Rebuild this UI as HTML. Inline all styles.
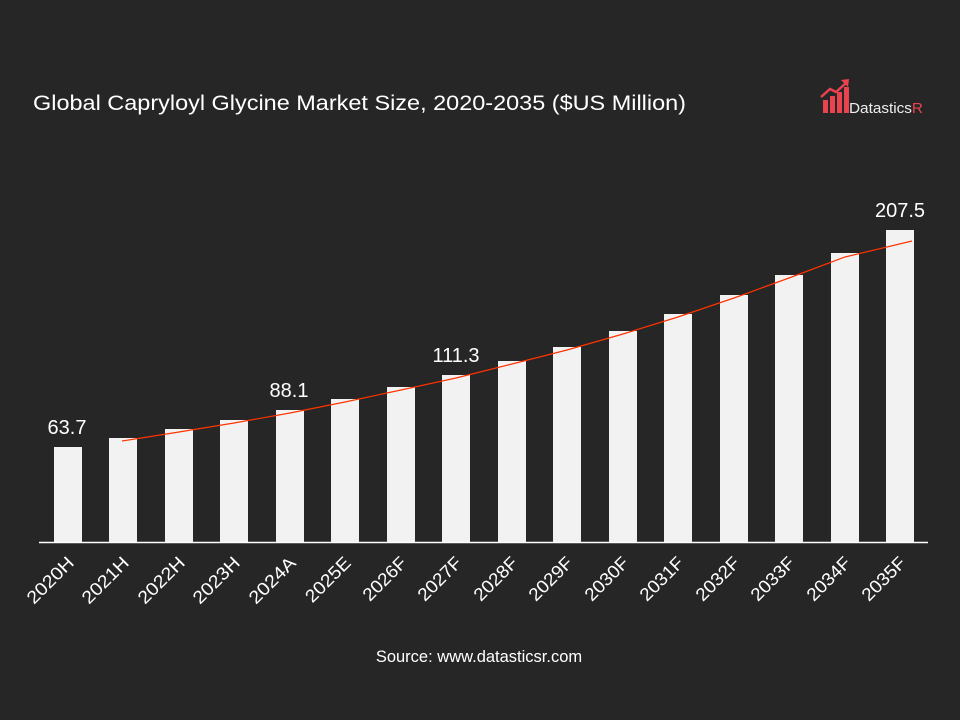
<!DOCTYPE html>
<html><head><meta charset="utf-8"><style>
html,body{margin:0;padding:0;background:#262626;}
svg{display:block;font-family:"Liberation Sans",sans-serif;}
</style></head><body>
<svg width="960" height="720" viewBox="0 0 960 720" xmlns="http://www.w3.org/2000/svg">
<rect width="960" height="720" fill="#262626"/>
<text x="33" y="110" fill="#ffffff" font-size="21" textLength="653" lengthAdjust="spacingAndGlyphs">Global Capryloyl Glycine Market Size, 2020-2035 ($US Million)</text>
<g>
<rect x="823" y="100" width="5" height="13" fill="#e8434f"/>
<rect x="830" y="96" width="5" height="17" fill="#e8434f"/>
<rect x="837" y="92" width="5" height="21" fill="#e8434f"/>
<rect x="844" y="87" width="5" height="26" fill="#e8434f"/>
<polyline points="821,97 830,89 836,92 846,83" fill="none" stroke="#e8434f" stroke-width="2.5"/>
<polygon points="841,80 849,79 848,87" fill="#e8434f"/>
<text x="849" y="113" font-size="15" fill="#eeeeee" textLength="74" lengthAdjust="spacingAndGlyphs">Datastics<tspan fill="#e8434f">R</tspan></text>
</g>
<g fill="#f2f2f2">
<rect x="54" y="447" width="28" height="95"/>
<rect x="109" y="438" width="28" height="104"/>
<rect x="165" y="429" width="28" height="113"/>
<rect x="220" y="420" width="28" height="122"/>
<rect x="276" y="410" width="28" height="132"/>
<rect x="331" y="399" width="28" height="143"/>
<rect x="387" y="387" width="28" height="155"/>
<rect x="442" y="375" width="28" height="167"/>
<rect x="498" y="361" width="28" height="181"/>
<rect x="553" y="347" width="28" height="195"/>
<rect x="609" y="331" width="28" height="211"/>
<rect x="664" y="314" width="28" height="228"/>
<rect x="720" y="295" width="28" height="247"/>
<rect x="775" y="275" width="28" height="267"/>
<rect x="831" y="253" width="28" height="289"/>
<rect x="886" y="230" width="28" height="312"/>
</g>
<line x1="39" y1="542.5" x2="928" y2="542.5" stroke="#ffffff" stroke-width="1.5"/>
<polyline fill="none" stroke="#ff3300" stroke-width="1.2" points="122,441 179,432 234,423 290,413 345,402 401,390 456,378 512,364 567,350 623,334 678,317 734,298 789,278 845,257 912,241"/>
<g fill="#ffffff" font-size="20" text-anchor="middle">
<text x="67" y="434">63.7</text>
<text x="289" y="397">88.1</text>
<text x="456" y="362">111.3</text>
<text x="900" y="217">207.5</text>
</g>
<g fill="#ffffff" font-size="18" text-anchor="end">
<text transform="translate(75,564) rotate(-45)" textLength="58" lengthAdjust="spacingAndGlyphs">2020H</text>
<text transform="translate(130,564) rotate(-45)" textLength="58" lengthAdjust="spacingAndGlyphs">2021H</text>
<text transform="translate(186,564) rotate(-45)" textLength="58" lengthAdjust="spacingAndGlyphs">2022H</text>
<text transform="translate(241,564) rotate(-45)" textLength="58" lengthAdjust="spacingAndGlyphs">2023H</text>
<text transform="translate(297,564) rotate(-45)" textLength="58" lengthAdjust="spacingAndGlyphs">2024A</text>
<text transform="translate(352,564) rotate(-45)" textLength="56" lengthAdjust="spacingAndGlyphs">2025E</text>
<text transform="translate(408,564) rotate(-45)" textLength="54" lengthAdjust="spacingAndGlyphs">2026F</text>
<text transform="translate(463,564) rotate(-45)" textLength="54" lengthAdjust="spacingAndGlyphs">2027F</text>
<text transform="translate(519,564) rotate(-45)" textLength="54" lengthAdjust="spacingAndGlyphs">2028F</text>
<text transform="translate(574,564) rotate(-45)" textLength="54" lengthAdjust="spacingAndGlyphs">2029F</text>
<text transform="translate(630,564) rotate(-45)" textLength="54" lengthAdjust="spacingAndGlyphs">2030F</text>
<text transform="translate(685,564) rotate(-45)" textLength="54" lengthAdjust="spacingAndGlyphs">2031F</text>
<text transform="translate(741,564) rotate(-45)" textLength="54" lengthAdjust="spacingAndGlyphs">2032F</text>
<text transform="translate(796,564) rotate(-45)" textLength="54" lengthAdjust="spacingAndGlyphs">2033F</text>
<text transform="translate(852,564) rotate(-45)" textLength="54" lengthAdjust="spacingAndGlyphs">2034F</text>
<text transform="translate(907,564) rotate(-45)" textLength="54" lengthAdjust="spacingAndGlyphs">2035F</text>
</g>
<text x="479" y="662" fill="#ffffff" font-size="16.5" text-anchor="middle">Source: www.datasticsr.com</text>
</svg>
</body></html>
